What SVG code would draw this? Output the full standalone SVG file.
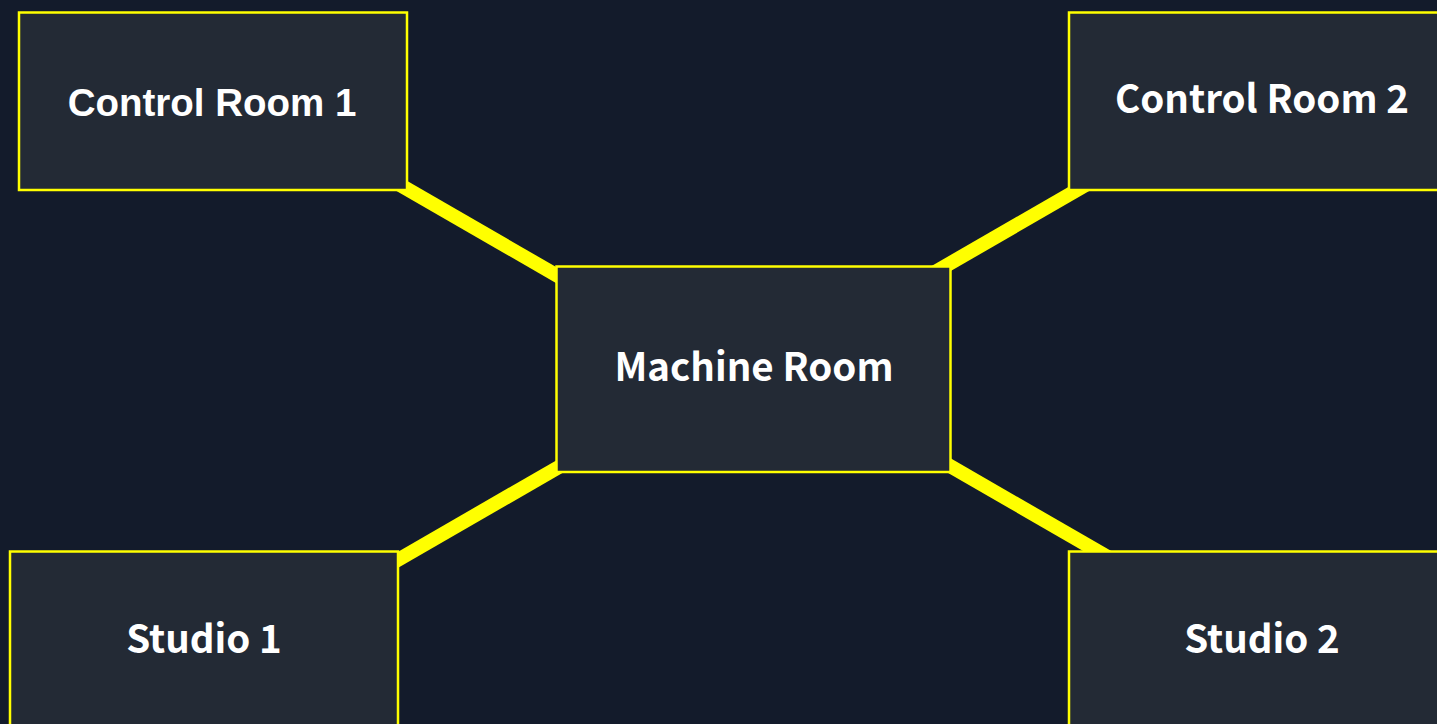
<svg xmlns="http://www.w3.org/2000/svg" width="1437" height="724" viewBox="0 0 1437 724">
<style>
.bg{fill:#131b2b}
.node rect{fill:#232a35;stroke:#ffff00;stroke-width:2.5}
.edge{stroke:#ffff00;stroke-width:14;fill:none}
.lbl{fill:#ffffff;font-weight:bold;text-anchor:middle;font-family:"Noto Sans CJK JP","Noto Sans",sans-serif;font-size:38.5px}
.lbl.a{font-family:"Liberation Sans",Arial,sans-serif;font-size:38.5px}
</style>
<rect class="bg" x="0" y="0" width="1437" height="724"/>
<g id="connectors">
<line class="edge" x1="380" y1="173.4" x2="600" y2="300.4"/>
<line class="edge" x1="910" y1="286.5" x2="1110" y2="171"/>
<line class="edge" x1="380" y1="570.2" x2="600" y2="443.2"/>
<line class="edge" x1="910" y1="442.9" x2="1130" y2="569.9"/>
</g>
<g id="control-room-1" class="node">
<rect x="19" y="12.5" width="388" height="177.5"/>
<text class="lbl a" x="212" y="116">Control Room 1</text>
</g>
<g id="control-room-2" class="node">
<rect x="1069" y="12.5" width="388" height="177.5"/>
<text class="lbl" x="1262" y="113">Control Room 2</text>
</g>
<g id="machine-room" class="node">
<rect x="556.5" y="266.5" width="394" height="205.5"/>
<text class="lbl" x="754" y="381">Machine Room</text>
</g>
<g id="studio-1" class="node">
<rect x="10" y="551.5" width="388" height="177.5"/>
<text class="lbl" x="204" y="653">Studio 1</text>
</g>
<g id="studio-2" class="node">
<rect x="1069" y="551.5" width="388" height="177.5"/>
<text class="lbl" x="1262" y="653">Studio 2</text>
</g>
</svg>
